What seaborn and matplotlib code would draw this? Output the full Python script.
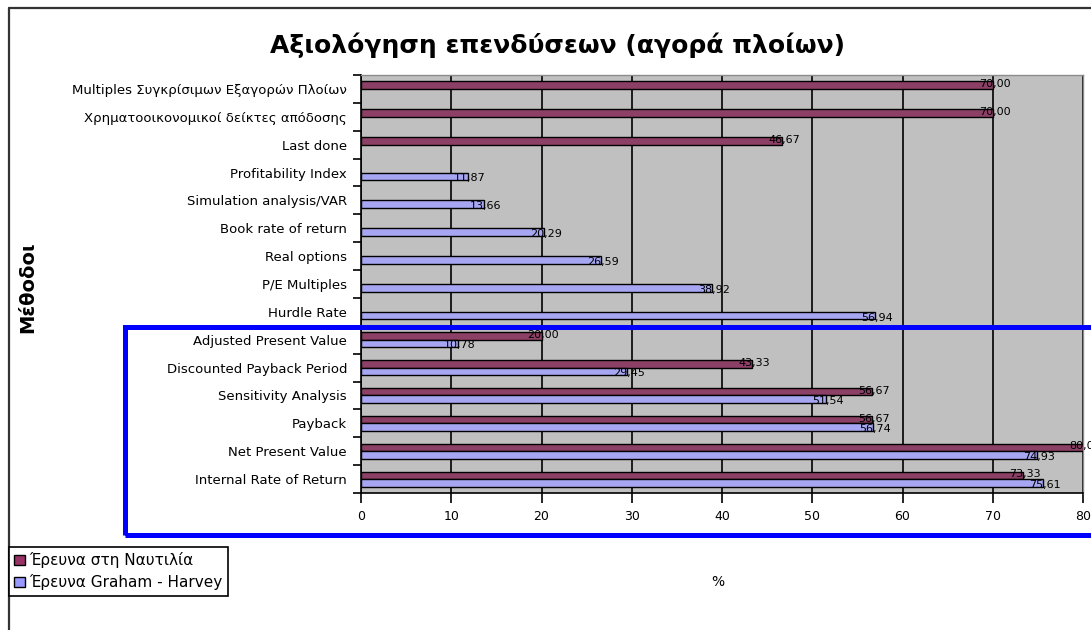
import numpy as np
import pandas as pd
import matplotlib
matplotlib.use("Agg")
import matplotlib.pyplot as plt
import seaborn as sns
from matplotlib.patches import Patch, Rectangle
from matplotlib.lines import Line2D

nan = np.nan

# Investment appraisal methods, top to bottom
methods = [
    "Multiples Συγκρίσιμων Εξαγορών Πλοίων",
    "Χρηματοοικονομικοί δείκτες απόδοσης",
    "Last done",
    "Profitability Index",
    "Simulation analysis/VAR",
    "Book rate of return",
    "Real options",
    "P/E Multiples",
    "Hurdle Rate",
    "Adjusted Present Value",
    "Discounted Payback Period",
    "Sensitivity Analysis",
    "Payback",
    "Net Present Value",
    "Internal Rate of Return",
]

# Share of respondents using each method (%)
shipping_survey = [70.00, 70.00, 46.67, nan, nan, nan, nan, nan, nan,
                   20.00, 43.33, 56.67, 56.67, 80.00, 73.33]
graham_harvey_survey = [nan, nan, nan, 11.87, 13.66, 20.29, 26.59, 38.92, 56.94,
                        10.78, 29.45, 51.54, 56.74, 74.93, 75.61]

series_names = ["Έρευνα στη Ναυτιλία", "Έρευνα Graham - Harvey"]
x_ticks = [0, 10, 20, 30, 40, 50, 60, 70, 80]

title = "Αξιολόγηση επενδύσεων (αγορά πλοίων)"
y_title = "Μέθοδοι"
x_title = "%"

maroon = "#993366"
lilac = "#9999FF"

df = pd.DataFrame({
    "Μέθοδος": methods * 2,
    "Ποσοστό": shipping_survey + graham_harvey_survey,
    "Έρευνα": [series_names[0]] * len(methods) + [series_names[1]] * len(methods),
}).dropna()

sns.set_style("white")
plt.rcParams["font.family"] = ["DejaVu Sans"]
plt.rcParams["text.color"] = "black"
plt.rcParams["xtick.color"] = "black"
plt.rcParams["ytick.color"] = "black"
plt.rcParams["axes.labelcolor"] = "black"

W, H = 1091, 630
fig = plt.figure(figsize=(W / 100, H / 100), dpi=100)
fig.patch.set_facecolor("white")

ax = fig.add_axes([361 / W, 1 - 493 / H, (1083 - 361) / W, (493 - 75) / H])

sns.barplot(
    data=df, y="Μέθοδος", x="Ποσοστό", hue="Έρευνα",
    order=methods, hue_order=series_names,
    palette=[maroon, lilac], width=0.54, orient="h",
    edgecolor="black", linewidth=1, errorbar=None,
    legend=False, ax=ax, zorder=3,
)

ax.set_facecolor("#C0C0C0")
ax.set_xlim(0, 80)
ax.set_ylim(len(methods) - 0.5, -0.5)
ax.set_xticks(x_ticks)
ax.set_xlabel("")
ax.set_ylabel("")
ax.set_axisbelow(True)
ax.xaxis.grid(True, color="black", linewidth=1.2, zorder=1)
ax.yaxis.grid(False)

for side in ("left", "bottom"):
    ax.spines[side].set_color("black")
    ax.spines[side].set_linewidth(1.2)
for side in ("top", "right"):
    ax.spines[side].set_color("#8C8C8C")
    ax.spines[side].set_linewidth(1.0)

ax.set_yticks(np.arange(-0.5, len(methods), 1), minor=True)
ax.tick_params(axis="y", which="major", length=0, pad=10, labelsize=9.5,
               labelcolor="black")
ax.tick_params(axis="y", which="minor", length=6, width=1.2, color="black", left=True)
ax.tick_params(axis="x", which="major", length=7, width=1.2, color="black",
               bottom=True, pad=5, labelsize=9, labelcolor="black")

# Value labels at the end of each bar (Greek decimal comma)
for i, container in enumerate(ax.containers):
    dy = 1 if i == 0 else -2
    for bar in container:
        w = bar.get_width()
        if not np.isfinite(w) or w == 0:
            continue
        ax.annotate(f"{w:.2f}".replace(".", ","),
                    xy=(w, bar.get_y() + bar.get_height() / 2),
                    xytext=(-14, dy), textcoords="offset pixels",
                    ha="left", va="center", fontsize=8, color="black",
                    zorder=5, annotation_clip=False)

fig.text(557 / W, 1 - 45 / H, title, ha="center", va="center",
         fontsize=18, fontweight="bold", color="black")
fig.text(28 / W, 1 - 287 / H, y_title, rotation=90, ha="center", va="center",
         fontsize=14, fontweight="bold", color="black")
fig.text(718 / W, 1 - 582 / H, x_title, ha="center", va="center", fontsize=10,
         color="black")

handles = [Patch(facecolor=maroon, edgecolor="black", label=series_names[0]),
           Patch(facecolor=lilac, edgecolor="black", label=series_names[1])]
leg = fig.legend(handles=handles, loc="upper left",
                 bbox_to_anchor=(9 / W, 1 - 547 / H), bbox_transform=fig.transFigure,
                 frameon=True, fancybox=False, edgecolor="black", framealpha=1,
                 fontsize=11, handlelength=0.7, handleheight=0.7,
                 handletextpad=0.3, borderpad=0.35, labelspacing=0.4,
                 borderaxespad=0)
leg.get_frame().set_linewidth(1.2)
for t in leg.get_texts():
    t.set_color("black")

# Chart frame (top and left edges)
fig.add_artist(Line2D([9 / W, 9 / W], [0, 1 - 8 / H], transform=fig.transFigure,
                      color="#333333", linewidth=1.6))
fig.add_artist(Line2D([9 / W, 1], [1 - 8 / H, 1 - 8 / H], transform=fig.transFigure,
                      color="#333333", linewidth=1.6))

# Highlight box around the methods common to both surveys
fig.add_artist(Rectangle((125 / W, 1 - 535 / H), (1110 - 125) / W, (535 - 327) / H,
                         transform=fig.transFigure, fill=False,
                         edgecolor="#0000FF", linewidth=3.6, clip_on=False))

fig.savefig("out.png", dpi=100)
